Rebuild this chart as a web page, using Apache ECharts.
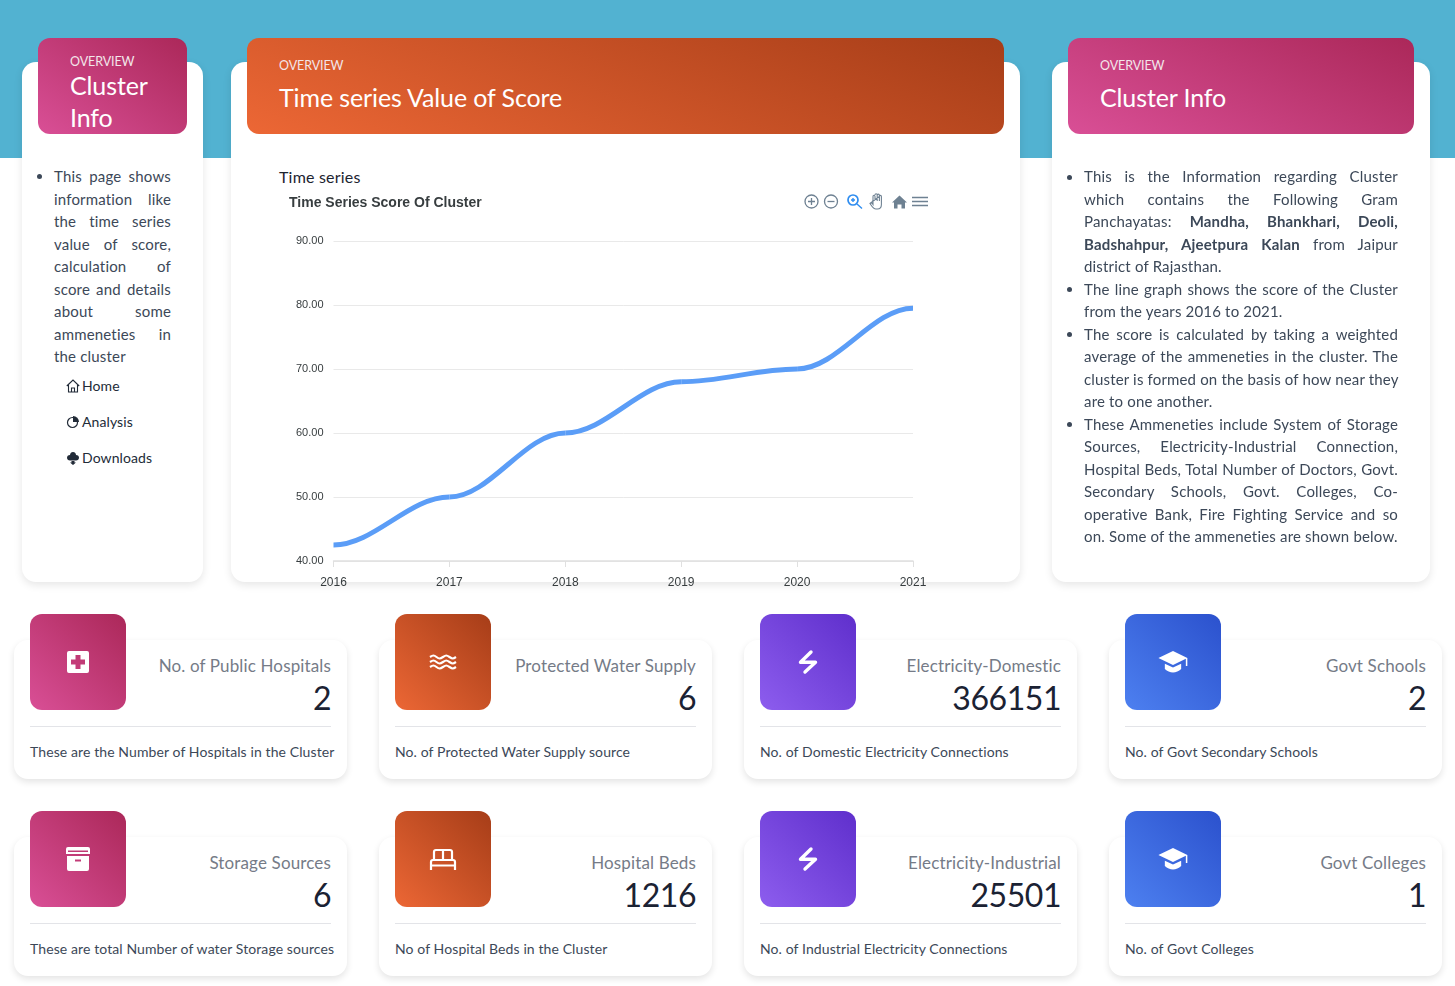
<!DOCTYPE html>
<html><head><meta charset="utf-8">
<script src="https://cdn.jsdelivr.net/npm/echarts@6/dist/echarts.min.js"></script>
<style>
html,body{margin:0;padding:0;background:#fff;width:1455px;height:986px;overflow:hidden;font-family:Lato,"Noto Sans",sans-serif;color:#3c4858}
.abs,.line,.card,.hd,.stat,.ibox{position:absolute;box-sizing:border-box}
.card{background:#fff;border-radius:14px;box-shadow:0 3px 8px rgba(0,0,0,.10)}
.hd{border-radius:12px;color:#fff}
.hd .o{position:absolute;left:32px;font-size:12.5px;color:#f3e6ea;letter-spacing:-.1px}
.hd .t{position:absolute;left:32px;font-size:25px;line-height:32px;white-space:pre-line;letter-spacing:-.12px}
.pink{background:linear-gradient(45deg,#d94f96,#ab2859)}
.orange{background:linear-gradient(45deg,#ec6735,#a63d18)}
.purple{background:linear-gradient(45deg,#8d5dee,#5f2fcc)}
.blue{background:linear-gradient(45deg,#4d80f0,#2b51cd)}
.line{font-size:15px;line-height:22.5px;height:22.5px;white-space:nowrap;color:#3c4858;letter-spacing:.18px}
.line.j{white-space:normal;text-align:justify;text-align-last:justify}
.dot{position:absolute;width:5px;height:5px;border-radius:50%;background:#3c4858}
.nav{position:absolute;left:82px;font-size:14px;color:#222b38;letter-spacing:.1px;line-height:18px}
.nav svg{position:absolute;left:-16px;top:2px}
.stat{width:333px;height:139px;background:#fff;border-radius:14px;box-shadow:0 3px 7px rgba(0,0,0,.11)}
.ibox{width:96px;height:96px;border-radius:12px;left:16px;top:-26px;display:flex;align-items:center;justify-content:center}
.st{position:absolute;right:16px;top:16px;font-size:17px;line-height:20px;color:#757b87;letter-spacing:.14px;white-space:nowrap}
.sv{position:absolute;right:16px;top:38px;font-size:32px;line-height:40px;color:#1b2233;letter-spacing:-.45px}
.sr{position:absolute;left:16px;right:16px;top:86px;border-top:1px solid #e3e4e8}
.sf{position:absolute;left:16px;top:103px;font-size:14px;line-height:18px;color:#3c4858;white-space:nowrap;letter-spacing:.1px}
</style></head><body>
<div class="abs" style="left:0;top:0;width:1455px;height:158px;background:#52b2d1"></div>
<div class="card" style="left:22px;top:62px;width:181px;height:520px"></div>
<div class="card" style="left:231px;top:62px;width:789px;height:520px"></div>
<div class="card" style="left:1052px;top:62px;width:378px;height:520px"></div>
<div class="hd pink" style="left:38px;top:38px;width:149px;height:96px;background:linear-gradient(35deg,#d94f96,#ab2859)"><div class="o" style="top:16px">OVERVIEW</div><div class="t" style="top:31px">Cluster
Info</div></div>
<div class="hd orange" style="left:247px;top:38px;width:757px;height:96px;background:linear-gradient(22deg,#ec6735,#a63d18)"><div class="o" style="top:20px">OVERVIEW</div><div class="t" style="top:43px">Time series Value of Score</div></div>
<div class="hd pink" style="left:1068px;top:38px;width:346px;height:96px;background:linear-gradient(25deg,#d94f96,#ab2859)"><div class="o" style="top:20px">OVERVIEW</div><div class="t" style="top:43px">Cluster Info</div></div>
<div class="abs" style="left:279px;top:167px;font-size:16px;line-height:20px;color:#1c2430;letter-spacing:.2px">Time series</div>
<div id="chart" class="abs" style="left:270px;top:185px;width:680px;height:405px"></div>
<svg class="abs" style="left:800px;top:190px" width="132" height="24" viewBox="0 0 132 24" fill="none" stroke="#6e8192" stroke-width="1.3">
<circle cx="11.500" cy="11.500" r="6.500"/><path d="M8 11.500h7M11.500 8v7"/>
<circle cx="31" cy="11.500" r="6.500"/><path d="M27.500 11.500h7"/>
<g stroke="#2f8df0" stroke-width="1.700"><circle cx="53" cy="10" r="5"/><path d="M57 14l5 4.500M51 10h4M53 8v4" stroke-width="1.400"/></g>
<path d="M70 13.500c1-1 2-.5 3 1V6.500c0-1.600 2-1.600 2 0V11M75 5c0-1.600 2.200-1.600 2.200 0v6M77.200 5.300c0-1.600 2.200-1.600 2.200 0V11M79.400 6.500c0-1.500 2-1.500 2 0v8c0 3-1.500 4.500-4 4.500h-1.500c-2.500 0-3.500-2-5.900-5.500z" stroke-width="1.100"/>
<path d="M92 12.500l7.500-7 7.500 7h-2v6h-3.500v-4h-4v4H94v-6z" fill="#6e8192" stroke="none"/>
<path d="M112 7.500h16M112 11.500h16M112 15.500h16" stroke-width="1.700"/>
</svg>
<div id="txt"></div>
<div id="stats"></div>
<script>
const categories = ['2016','2017','2018','2019','2020','2021'];
const scores = [42.5, 50, 60, 68, 70, 79.5];
const yMin = 40, yMax = 90, yStep = 10;
const chartTitle = 'Time Series Score Of Cluster';

const leftLines = [['This page shows',1],['information like',1],['the time series',1],['value of score,',1],['calculation of',1],['score and details',1],['about some',1],['ammeneties in',1],['the cluster',0]];
const rightLines = [
 [0,'This is the Information regarding Cluster',1],
 [0,'which contains the Following Gram',1],
 [0,'Panchayatas: <b>Mandha, Bhankhari, Deoli,</b>',1],
 [0,'<b>Badshahpur, Ajeetpura Kalan</b> from Jaipur',1],
 [0,'district of Rajasthan.',0],
 [1,'The line graph shows the score of the Cluster',1],
 [0,'from the years 2016 to 2021.',0],
 [1,'The score is calculated by taking a weighted',1],
 [0,'average of the ammeneties in the cluster. The',1],
 [0,'<span style="letter-spacing:.165px">cluster is formed on the basis of how near they</span>',0],
 [0,'are to one another.',0],
 [1,'These Ammeneties include System of Storage',1],
 [0,'Sources, Electricity-Industrial Connection,',1],
 [0,'Hospital Beds, Total Number of Doctors, Govt.',1],
 [0,'Secondary Schools, Govt. Colleges, Co-',1],
 [0,'operative Bank, Fire Fighting Service and so',1],
 [0,'on. Some of the ammeneties are shown below.',0]];
const navItems = ['Home','Analysis','Downloads'];
const statTitles = ['No. of Public Hospitals','Protected Water Supply','Electricity-Domestic','Govt Schools','Storage Sources','Hospital Beds','Electricity-Industrial','Govt Colleges'];
const statValues = ['2','6','366151','2','6','1216','25501','1'];
const statNotes = ['These are the Number of Hospitals in the Cluster','No. of Protected Water Supply source','No. of Domestic Electricity Connections','No. of Govt Secondary Schools','These are total Number of water Storage sources','No of Hospital Beds in the Cluster','No. of Industrial Electricity Connections','No. of Govt Colleges'];
const statStyles = ['pink','orange','purple','blue','pink','orange','purple','blue'];
const statIcons = ['plus','water','bolt','grad','box','bed','bolt','grad'];

const icons = {
 plus:'<path fill="#fff" fill-rule="evenodd" d="M3 1h18a2 2 0 0 1 2 2v18a2 2 0 0 1-2 2H3a2 2 0 0 1-2-2V3a2 2 0 0 1 2-2zM9.500 5v4.500H5v5h4.500V19h5v-4.500H19v-5h-4.500V5z"/>',
 water:'<g fill="none" stroke="#fff" stroke-width="2.200"><path d="M-1 7c3-2 4-2 6.500 0s3.500 2 6.500 0 3.500-2 6.500 0 3.500 2 6.500 0"/><path d="M-1 12c3-2 4-2 6.500 0s3.500 2 6.500 0 3.500-2 6.500 0 3.500 2 6.500 0"/><path d="M-1 17c3-2 4-2 6.500 0s3.500 2 6.500 0 3.500-2 6.500 0 3.500 2 6.500 0"/></g>',
 bolt:'<path fill="none" stroke="#fff" stroke-width="3.400" stroke-linejoin="round" stroke-linecap="round" d="M15 2L4.500 12.300H19.500L9 22"/>',
 grad:'<path fill="#fff" d="M12 2.500L-.5 8.500 12 14.500l11-5.300v6.300h1.300V8.500zM5 13.500v4.500c2 1.800 4.500 3 7 3s5-1.200 7-3v-4.500l-7 3.300z"/>',
 box:'<path fill="#fff" fill-rule="evenodd" d="M2 0h20a2 2 0 0 1 2 2v5H0V2a2 2 0 0 1 2-2zM2 3.500V5h20V3.500zM1 9h22v13a2 2 0 0 1-2 2H3a2 2 0 0 1-2-2zm8 3.500v2h6v-2z"/>',
 bed:'<g fill="none" stroke="#fff" stroke-width="2.200"><path d="M0 23V15a2 2 0 0 1 2-2h20a2 2 0 0 1 2 2v8M0 18.500h24"/><path d="M3 13V5a2 2 0 0 1 2-2h14a2 2 0 0 1 2 2v8M12 3v10"/></g>'
};
const navIcons = [
 '<path fill="none" stroke="#222b38" stroke-width="1.100" d="M.8 7L7 1l6.200 6M2.500 6v7h9V6M5.500 13V9h3v4"/>',
 '<g fill="none" stroke="#222b38" stroke-width="1.200"><circle cx="6.500" cy="7.500" r="5"/></g><path fill="#222b38" d="M7 1a6 6 0 0 1 6 6H7z"/>',
 '<path fill="#222b38" d="M7 1c2 0 3 1.500 3 3 2 0 3 1.300 3 2.800S11.800 9.500 10 9.500H4C2.200 9.500 1 8.300 1 6.800S2 4 4 4c0-1.500 1-3 3-3zM5.500 10h3v1.500H10L7 14l-3-2.500h1.500z"/>'];

let html = '<div class="dot" style="left:37px;top:174px"></div>';
leftLines.forEach((l,i)=>{ html += `<div class="line${l[1]?' j':''}" style="left:54px;width:117px;top:${165+i*22.5}px">${l[0]}</div>`; });
navItems.forEach((n,i)=>{ html += `<div class="nav" style="top:${377+i*36}px"><svg width="14" height="15" viewBox="0 0 14 15">${navIcons[i]}</svg>${n}</div>`; });
rightLines.forEach((l,i)=>{ const y=165+i*22.5;
 if(l[0]||i===0) html += `<div class="dot" style="left:1067px;top:${y+9.5}px"></div>`;
 html += `<div class="line${l[2]?' j':''}" style="left:1084px;width:314px;top:${y}px">${l[1]}</div>`; });
document.getElementById('txt').innerHTML = html;

const xs=[14,379,744,1109], ys=[640,837];
let s='';
statTitles.forEach((t,i)=>{ const x=xs[i%4], y=ys[i>>2];
 const c = statIcons[i]==='grad'?'28':'24';
 s+=`<div class="stat" style="left:${x}px;top:${y}px"><div class="ibox ${statStyles[i]}"><svg width="${c}" height="${c}" viewBox="0 0 24 24" style="overflow:visible">${icons[statIcons[i]]}</svg></div><div class="st">${t}</div><div class="sv">${statValues[i]}</div><div class="sr"></div><div class="sf">${statNotes[i]}</div></div>`;});
document.getElementById('stats').innerHTML=s;

// Flat-tangent cubic joining consecutive values, placed through the chart's own scales.
function renderSegment(params, api){
 const i = params.dataIndex;
 if(i === 0) return null;
 const a = api.coord([i-1, scores[i-1]]), b = api.coord([i, scores[i]]);
 const k = (b[0]-a[0])*0.35;
 return {type:'bezierCurve',
  shape:{x1:a[0],y1:a[1],x2:b[0],y2:b[1],cpx1:a[0]+k,cpy1:a[1],cpx2:b[0]-k,cpy2:b[1]},
  style:{stroke:'#5b9df7',lineWidth:5,fill:null}};
}
const chart = echarts.init(document.getElementById('chart'),null,{renderer:'canvas'});
chart.setOption({
 animation:false,
 title:{text:chartTitle,left:14,top:6,textStyle:{fontFamily:'"Liberation Sans"',fontSize:14,fontWeight:'bold',color:'#373d3f'}},
 grid:{left:63.5,right:37,top:56,bottom:29},
 xAxis:{type:'category',data:categories,boundaryGap:false,
  axisLine:{lineStyle:{color:'#e0e0e0',width:1.5}},axisTick:{show:true,length:6,lineStyle:{color:'#e0e0e0'}},
  axisLabel:{margin:16,fontFamily:'"Liberation Sans"',fontSize:12,color:'#373d3f',showMinLabel:true,showMaxLabel:true},splitLine:{show:false}},
 yAxis:{type:'value',min:yMin,max:yMax,interval:yStep,
  axisLine:{show:false},axisTick:{show:false},
  axisLabel:{margin:10,fontFamily:'"Liberation Sans"',fontSize:11,color:'#373d3f',formatter:v=>v.toFixed(2)},
  splitLine:{lineStyle:{color:'#e9e9e9',width:1}}},
 series:[{name:'Score',type:'custom',renderItem:renderSegment,data:scores.map((v,i)=>[i,v]),encode:{x:0,y:1},clip:false}]
});
</script>
</body></html>
